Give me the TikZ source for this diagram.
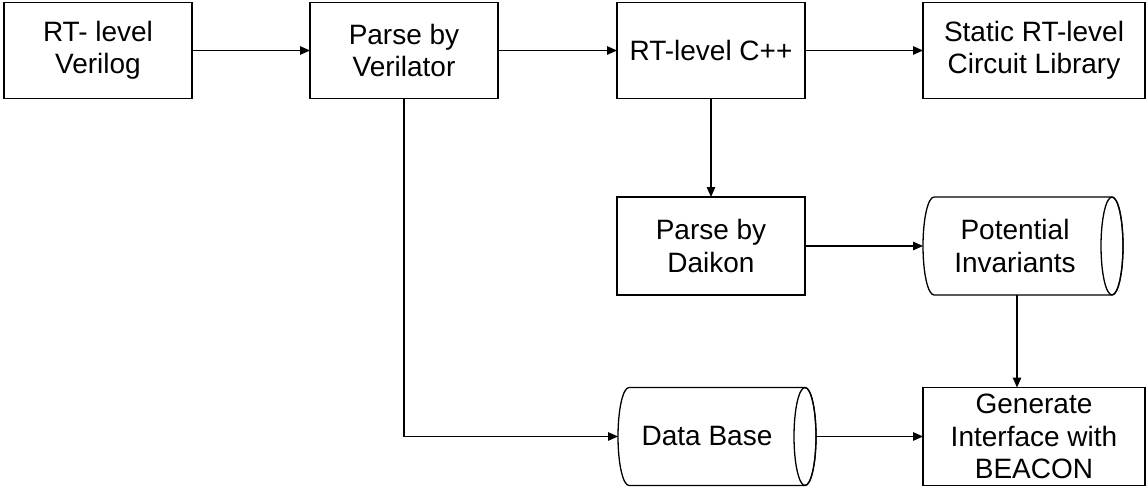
\documentclass[tikz,border=0pt]{standalone}
\usepackage{fontspec}
\setmainfont{Liberation Sans}
\usetikzlibrary{arrows.meta}
\newcommand\drawcyl[1]{%
  \draw[shp] ([xshift=11pt]#1.north west) -- ([xshift=-11pt]#1.north east)
    arc[start angle=90,end angle=-90,x radius=11pt,y radius=49pt]
    -- ([xshift=11pt]#1.south west)
    arc[start angle=270,end angle=90,x radius=11pt,y radius=49pt] -- cycle;
  \draw[shp] ([xshift=-11pt]#1.east) ellipse[x radius=11pt,y radius=49pt];
}
\begin{document}
\begin{tikzpicture}[x=1pt,y=-1pt,
  txtfont/.style={font=\fontsize{28}{32.5}\selectfont},
  box/.style={draw, line width=1.3pt, minimum width=188pt, minimum height=96pt,
    outer sep=0pt, inner sep=0pt, align=center, txtfont},
  ghost/.style={minimum width=200pt, minimum height=98pt, outer sep=0pt, inner sep=0pt},
  txt/.style={align=center, inner sep=0pt, txtfont},
  shp/.style={line width=1.3pt},
  arr/.style={line width=1.3pt, -{Triangle[length=10pt,width=8.5pt]}}]
\useasboundingbox (0,0) rectangle (1146,495);
\node[box] (b1) at (98,50.5) {RT- level\\Verilog};
\node[box] (b2) at (404,50.5) {Parse by\\Verilator};
\node[box] (b3) at (711,50.5) {RT-level C++};
\node[box, minimum width=222pt] (b4) at (1034,50.5) {Static RT-level\\Circuit Library};
\node[box, minimum height=98pt] (dk) at (711,246) {Parse by\\Daikon};
\node[ghost] (pi) at (1023,246) {};
\node[ghost, minimum width=198pt] (db) at (717,436.5) {};
\node[box, minimum width=222pt, minimum height=98pt] (gen) at (1034,436.5) {Generate\\Interface with\\BEACON};
\drawcyl{pi}
\drawcyl{db}
\node[txt] (pit) at ([xshift=-8pt]pi.center) {Potential\\Invariants};
\node[txt] (dbt) at ([xshift=-10pt]db.center) {Data Base};
\draw[arr] (b1.east) -- (b2.west);
\draw[arr] (b2.east) -- (b3.west);
\draw[arr] (b3.east) -- (b4.west);
\draw[arr] (b3.south) -- (dk.north);
\draw[arr] (dk.east) -- (pi.west);
\draw[arr] ([xshift=-6pt]pi.south) -- ([xshift=-6pt]pi.south |- gen.north);
\draw[arr] (b2.south) |- (db.west);
\draw[arr] (db.east) -- (gen.west);
\end{tikzpicture}
\end{document}
